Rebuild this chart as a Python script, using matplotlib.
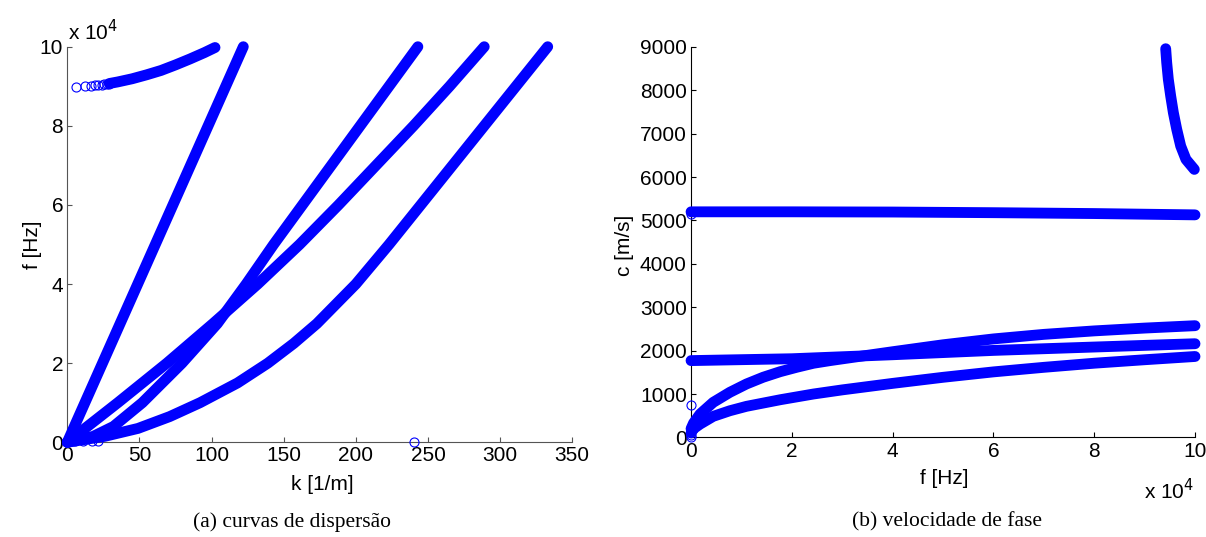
import numpy as np
import matplotlib.pyplot as plt

plt.rcParams['font.family'] = ['Liberation Sans', 'DejaVu Sans']

# ---- (a) curvas de dispersao: k [1/m] vs f [Hz] ----
k_m1 = [0, 24.4, 48.8, 73.2, 97.6, 122]
f_m1 = [0, 20000, 40000, 60000, 80000, 100000]

k_m2 = [0, 35, 69, 101, 132, 161, 188, 214, 240, 265, 289]
f_m2 = [0, 10000, 20000, 30000, 40000, 50000, 60000, 70000, 80000, 90000, 100000]

k_m3 = [0, 18, 32, 52, 79.5, 104, 124, 143, 163, 183, 203, 223, 243]
f_m3 = [0, 1500, 4000, 10000, 20000, 30000, 40000, 50000, 60000, 70000, 80000, 90000, 100000]

k_m4 = [0, 26, 49, 71, 92, 118, 139, 157, 173, 200, 223, 245, 267, 289, 311, 333]
f_m4 = [0, 1500, 3500, 6500, 10000, 15000, 20000, 25000, 30000, 40000, 50000,
        60000, 70000, 80000, 90000, 100000]

# cut-off mode near 90 kHz (sparse start, dense after)
k_m5_sparse = [6.0, 12.3, 16.2, 19.2, 21.5, 23.8, 25.7, 27.5, 29.1]
f_m5_sparse = [89900, 90000, 90100, 90200, 90300, 90400, 90500, 90600, 90700]
k_m5 = [29.1, 35, 45, 55, 65, 75, 85, 95, 102.4]
f_m5 = [90700, 91100, 91900, 92900, 94000, 95400, 96900, 98500, 99800]

# stray points
k_stray = [5, 11, 17, 21.5, 240]
f_stray = [200, 300, 300, 400, 0]

# ---- (b) velocidade de fase: f [Hz] vs c [m/s] ----
f_c1 = [0, 20000, 40000, 60000, 80000, 100000]
c_c1 = [5200, 5200, 5195, 5180, 5160, 5130]

f_c2 = [0, 20000, 40000, 60000, 80000, 100000]
c_c2 = [1770, 1813, 1905, 2005, 2083, 2159]

f_c3 = [0, 500, 1790, 4400, 7700, 11000, 14300, 17700, 21000, 24300, 27600, 30000,
        40000, 50000, 60000, 70000, 80000, 90000, 100000]
c_c3 = [200, 330, 538, 808, 1039, 1231, 1386, 1515, 1617, 1709, 1770, 1810,
        1975, 2135, 2270, 2375, 2455, 2520, 2575]

f_c4 = [0, 500, 1800, 4400, 7700, 11000, 17700, 24300, 30000, 40000, 50000,
        60000, 70000, 80000, 90000, 100000]
c_c4 = [100, 200, 307, 485, 614, 716, 868, 1000, 1095, 1245, 1385,
        1510, 1615, 1710, 1790, 1865]

f_c5 = [94180, 94380, 94700, 95170, 95700, 96370, 97160, 98200, 99860]
c_c5 = [8960, 8642, 8256, 7871, 7487, 7102, 6716, 6409, 6178]

f_cstray = [0, 0, 0, 0]
c_cstray = [0, 60, 740, 5150]

BAND = dict(color=(0, 0, 1), lw=7.8, solid_capstyle='round',
            solid_joinstyle='round', clip_on=False, zorder=3)
RING = dict(ls='none', marker='o', mfc='none', mec=(0, 0, 1), ms=6.5,
            mew=0.8, clip_on=False, zorder=3)


def style(ax, spine_col):
    for s in ['top', 'right']:
        ax.spines[s].set_visible(False)
    for s in ['left', 'bottom']:
        ax.spines[s].set_color(spine_col)
        ax.spines[s].set_linewidth(0.8)
    ax.tick_params(direction='in', length=3.5, width=0.8, color=spine_col,
                   labelsize=15, labelcolor='black', pad=3)


fig = plt.figure(figsize=(12.06, 5.37), dpi=100)

ax1 = fig.add_axes([0.0558, 0.1764, 0.4187, 0.7366])
for k, f in [(k_m1, f_m1), (k_m2, f_m2), (k_m3, f_m3), (k_m4, f_m4), (k_m5, f_m5)]:
    ax1.plot(k, f, **BAND)
ax1.plot(k_m5_sparse, f_m5_sparse, **RING)
ax1.plot(k_stray, f_stray, **RING)
ax1.set_xlim(0, 350)
ax1.set_ylim(0, 100000)
ax1.set_xticks(np.arange(0, 351, 50))
ax1.set_yticks(np.arange(0, 100001, 20000))
ax1.set_yticklabels(['0', '2', '4', '6', '8', '10'])
style(ax1, '#555555')

ax2 = fig.add_axes([0.5730, 0.1855, 0.4179, 0.7270])
for f, c in [(f_c1, c_c1), (f_c2, c_c2), (f_c3, c_c3), (f_c4, c_c4), (f_c5, c_c5)]:
    ax2.plot(f, c, **BAND)
ax2.plot(f_cstray, c_cstray, **RING)
ax2.set_xlim(0, 100000)
ax2.set_ylim(0, 9000)
ax2.set_xticks(np.arange(0, 100001, 20000))
ax2.set_xticklabels(['0', '2', '4', '6', '8', '10'])
ax2.set_yticks(np.arange(0, 9001, 1000))
style(ax2, 'black')

W, H = 1206, 537
fs = 15
fig.text(322 / W, 1 - 484 / H, 'k [1/m]', ha='center', va='center', fontsize=fs)
fig.text(33 / W, 1 - 245 / H, 'f [Hz]', ha='center', va='center', fontsize=fs, rotation=90)
fig.text(68 / W, 1 - 32 / H, r'x 10$^{4}$', ha='left', va='center', fontsize=fs)
fig.text(624 / W, 1 - 245 / H, 'c [m/s]', ha='center', va='center', fontsize=fs, rotation=90)
fig.text(944 / W, 1 - 479 / H, 'f [Hz]', ha='center', va='center', fontsize=fs)
fig.text(1144 / W, 1 - 491 / H, r'x 10$^{4}$', ha='left', va='center', fontsize=fs)

fig.text(292 / W, 1 - 522 / H, '(a) curvas de dispersão', ha='center', va='center',
         fontsize=15.5, family='Liberation Serif')
fig.text(947 / W, 1 - 522 / H, '(b) velocidade de fase', ha='center', va='center',
         fontsize=15.5, family='Liberation Serif')

fig.savefig('out.png', dpi=100)
